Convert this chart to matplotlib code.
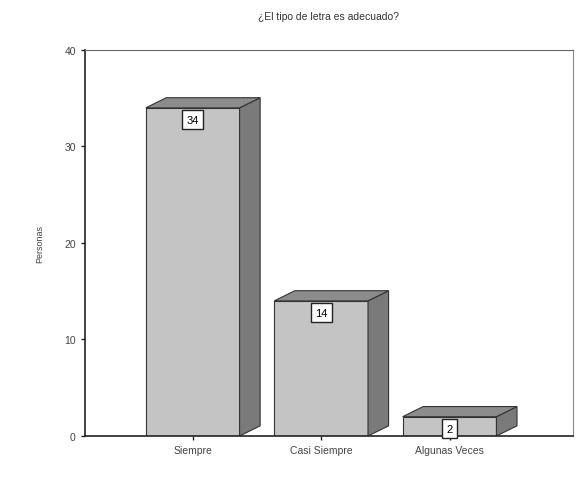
import matplotlib
matplotlib.use("Agg")
import matplotlib.pyplot as plt
from matplotlib.patches import Polygon

categories = ["Siempre", "Casi Siempre", "Algunas Veces"]
values = [34, 14, 2]
y_ticks = [0, 10, 20, 30, 40]

plt.rcParams["font.family"] = ["Liberation Sans", "DejaVu Sans"]

fig = plt.figure(figsize=(5.81, 4.85), dpi=100)
ax = fig.add_axes([0.146, 0.099, 0.840, 0.796])

width = 0.73
dx, dy = 0.16, 1.05
x = list(range(len(categories)))

ax.bar(x, values, width, color="#c4c4c4", edgecolor="#333333", linewidth=0.8, zorder=2)
for xi, v in zip(x, values):
    l, r = xi - width / 2, xi + width / 2
    side = Polygon([(r, 0), (r + dx, dy), (r + dx, v + dy), (r, v)],
                   closed=True, facecolor="#7a7a7a", edgecolor="#333333", linewidth=0.8, zorder=2)
    top = Polygon([(l, v), (l + dx, v + dy), (r + dx, v + dy), (r, v)],
                  closed=True, facecolor="#8c8c8c", edgecolor="#333333", linewidth=0.8, zorder=2)
    ax.add_patch(side)
    ax.add_patch(top)
    ax.text(xi, v - 1.25, str(v), ha="center", va="center", fontsize=8, zorder=3,
            bbox=dict(boxstyle="square,pad=0.4", facecolor="white", edgecolor="#222222", linewidth=1.0))

ax.set_xlim(-0.84, 2.96)
ax.set_ylim(0, 40)
ax.set_yticks(y_ticks)
ax.set_xticks(x)
ax.set_xticklabels(categories)
ax.tick_params(axis="both", labelsize=7.5, length=3, width=1, colors="#222222", labelcolor="#444444")
ax.set_ylabel("Personas", fontsize=6.5, color="#444444", labelpad=14)
ax.set_title("¿El tipo de letra es adecuado?", fontsize=7.5, color="#333333", pad=22)

ax.spines["left"].set_color("#222222")
ax.spines["bottom"].set_color("#222222")
ax.spines["left"].set_linewidth(1.2)
ax.spines["bottom"].set_linewidth(1.2)
ax.spines["top"].set_color("#666666")
ax.spines["right"].set_color("#888888")

fig.savefig("out.png", dpi=100)
